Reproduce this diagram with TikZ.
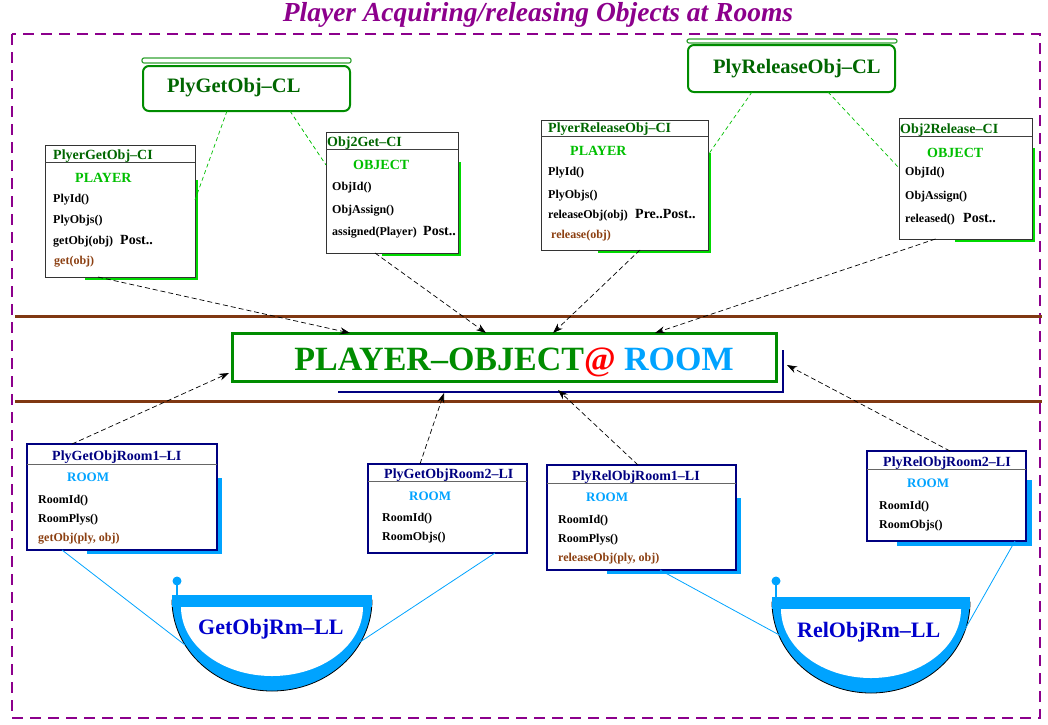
\documentclass[tikz,border=0pt]{standalone}
\usepackage{fontspec}
\setmainfont{Liberation Serif}
\usetikzlibrary{arrows.meta,calc}

\definecolor{plum}{rgb}{0.55,0,0.55}
\definecolor{rulebrown}{rgb}{0.5,0.22,0.07}
\definecolor{dkgreen}{rgb}{0,0.40,0}
\definecolor{midgreen}{rgb}{0,0.55,0}
\definecolor{ltgreen}{rgb}{0,0.75,0}
\definecolor{shgreen}{rgb}{0,0.85,0}
\definecolor{navy}{rgb}{0,0,0.5}
\definecolor{llblue}{rgb}{0,0,0.8}
\definecolor{sky}{rgb}{0,0.64,1}
\definecolor{methbrown}{rgb}{0.55,0.25,0.07}

\newcommand{\tsz}[1]{\fontsize{#1}{#1}\selectfont}

\begin{document}
\begin{tikzpicture}[x=1pt,y=-1pt,
  txt/.style={inner sep=0pt, anchor=base west, font=\bfseries\tsz{12}},
  ctxt/.style={inner sep=0pt, anchor=base, font=\bfseries},
  clbox/.style={draw=midgreen, line width=2pt, rounded corners=6pt, fill=white, inner sep=0pt, outer sep=0pt},
  clbar/.style={draw=midgreen!80, line width=1.2pt, rounded corners=2pt},
  cibox/.style={draw=black!80, line width=1pt, fill=white, inner sep=0pt, outer sep=0pt},
  libox/.style={draw=navy, line width=1.2pt, fill=white, inner sep=0pt, outer sep=0pt},
  citle/.style={txt, text=dkgreen, font=\bfseries\tsz{14}},
  litle/.style={txt, text=navy, font=\bfseries\tsz{14}},
  kind/.style={txt, font=\bfseries\tsz{14}},
  meth/.style={txt, text=methbrown},
  cond/.style={txt, font=\bfseries\tsz{14}},
  gdash/.style={draw=ltgreen, line width=0.7pt, dash pattern=on 4pt off 3pt},
  dep/.style={draw=black, line width=0.7pt, dash pattern=on 5pt off 3pt, -{Stealth[length=10pt,width=7pt]}},
  link/.style={draw=sky, line width=0.8pt},
]
\useasboundingbox (0,0) rectangle (1048,724);

% heading and frame
\node[ctxt, text=plum, font=\bfseries\itshape\tsz{27.5}] (title) at (538,21) {Player Acquiring/releasing Objects at Rooms};
\draw[plum, line width=2.5pt, dash pattern=on 11pt off 7pt] (12,34) rectangle (1040,718);

% horizontal rules
\draw[rulebrown, line width=3pt] (15,316) -- (1042,316);
\draw[rulebrown, line width=3pt] (15,401) -- (1042,401);

% central relation
\draw[navy, line width=2.5pt] (338,392) -- (783,392) -- (783,350);
\node[draw=midgreen, line width=3pt, fill=white, minimum width=544pt, minimum height=48pt, inner sep=0pt, outer sep=0pt] (ctr) at (504,357) {};
\node[ctxt, font=\bfseries\tsz{34}] (ctrtext) at (514,370) {{\color{midgreen}PLAYER\textendash OBJECT}{\color{red}@} {\color{sky}ROOM}};

% ---------- class boxes ----------
\draw[clbar] (142,58) rectangle (351,63);
\node[clbox, minimum width=207pt, minimum height=45pt] (gcl) at (246.5,88.5) {};
\node[txt, text=dkgreen, font=\bfseries\tsz{20.5}] (gclt) at (167,92) {PlyGetObj\textendash CL};

\draw[clbar] (687,39) rectangle (897,43);
\node[clbox, minimum width=207pt, minimum height=47pt] (rcl) at (791.5,68.5) {};
\node[txt, text=dkgreen, font=\bfseries\tsz{20.5}] (rclt) at (713,73) {PlyReleaseObj\textendash CL};

% ---------- class instances ----------
% PlyerGetObj-CI
\fill[shgreen] (85,180) rectangle (198,280);
\node[cibox, minimum width=150pt, minimum height=132pt] (gci) at (120,211) {};
\draw[black!75, line width=1pt] (45,162) -- (195,162);
\node[citle] (gci1) at (53,159) {PlyerGetObj\textendash CI};
\node[kind, text=ltgreen] (gci2) at (75,182) {PLAYER};
\node[txt] (gci3) at (53,202) {PlyId()};
\node[txt] (gci4) at (53,223) {PlyObjs()};
\node[txt] (gci5) at (53,244) {getObj(obj)};
\node[cond] (gci6) at (120,244) {Post..};
\node[meth] (gci7) at (54,264) {get(obj)};

% Obj2Get-CI
\fill[shgreen] (382,162) rectangle (461,256);
\node[cibox, minimum width=132pt, minimum height=121pt] (oci) at (392,192.5) {};
\draw[black!75, line width=1pt] (326,149) -- (458,149);
\node[citle] (oci1) at (327,146) {Obj2Get\textendash CI};
\node[kind, text=ltgreen] (oci2) at (353,169) {OBJECT};
\node[txt] (oci3) at (332,190) {ObjId()};
\node[txt] (oci4) at (332,213) {ObjAssign()};
\node[txt] (oci5) at (332,235) {assigned(Player)};
\node[cond] (oci6) at (423,235) {Post..};

% PlyerReleaseObj-CI
\fill[shgreen] (598,153) rectangle (711,253);
\node[cibox, minimum width=167pt, minimum height=130pt] (rci) at (624.5,185) {};
\draw[black!75, line width=1pt] (541,136) -- (708,136);
\node[citle] (rci1) at (548,132) {PlyerReleaseObj\textendash CI};
\node[kind, text=ltgreen] (rci2) at (570,155) {PLAYER};
\node[txt] (rci3) at (548,175) {PlyId()};
\node[txt] (rci4) at (548,198) {PlyObjs()};
\node[txt] (rci5) at (548,218) {releaseObj(obj)};
\node[cond] (rci6) at (635,218) {Pre..Post..};
\node[meth] (rci7) at (551,238) {release(obj)};

% Obj2Release-CI
\fill[shgreen] (955,148) rectangle (1035,242);
\node[cibox, minimum width=133pt, minimum height=121pt] (rlci) at (965.5,178.5) {};
\draw[black!75, line width=1pt] (899,136) -- (1032,136);
\node[citle] (rlci1) at (900,133) {Obj2Release\textendash CI};
\node[kind, text=ltgreen] (rlci2) at (927,157) {OBJECT};
\node[txt] (rlci3) at (905,175) {ObjId()};
\node[txt] (rlci4) at (905,199) {ObjAssign()};
\node[txt] (rlci5) at (905,222) {released()};
\node[cond] (rlci6) at (963,222) {Post..};

% ---------- link instances ----------
% PlyGetObjRoom1-LI
\fill[sky] (87,478) rectangle (222,554);
\node[libox, minimum width=190pt, minimum height=106pt] (li1) at (122,497) {};
\draw[black!60, line width=1pt] (27,464) -- (217,464);
\node[litle] (li1a) at (52,460) {PlyGetObjRoom1\textendash LI};
\node[kind, text=sky, font=\bfseries\tsz{13}] (li1b) at (67,481) {ROOM};
\node[txt] (li1c) at (38,503) {RoomId()};
\node[txt] (li1d) at (38,522) {RoomPlys()};
\node[meth] (li1e) at (38,541) {getObj(ply, obj)};

% PlyGetObjRoom2-LI
\node[libox, minimum width=159pt, minimum height=89pt] (li2) at (447.5,508.5) {};
\draw[black!60, line width=1pt] (368,481) -- (527,481);
\node[litle] (li2a) at (384,478) {PlyGetObjRoom2\textendash LI};
\node[kind, text=sky, font=\bfseries\tsz{13}] (li2b) at (409,500) {ROOM};
\node[txt] (li2c) at (382,521) {RoomId()};
\node[txt] (li2d) at (382,540) {RoomObjs()};

% PlyRelObjRoom1-LI
\fill[sky] (607,498) rectangle (741,574);
\node[libox, minimum width=189pt, minimum height=105pt] (li3) at (641.5,517.5) {};
\draw[black!60, line width=1pt] (547,483) -- (736,483);
\node[litle] (li3a) at (572,480) {PlyRelObjRoom1\textendash LI};
\node[kind, text=sky, font=\bfseries\tsz{13}] (li3b) at (586,501) {ROOM};
\node[txt] (li3c) at (558,523) {RoomId()};
\node[txt] (li3d) at (558,542) {RoomPlys()};
\node[meth] (li3e) at (558,561) {releaseObj(ply, obj)};

% PlyRelObjRoom2-LI
\fill[sky] (897,480) rectangle (1032,546);
\node[libox, minimum width=159pt, minimum height=90pt] (li4) at (946.5,496) {};
\draw[black!60, line width=1pt] (867,469) -- (1026,469);
\node[litle] (li4a) at (883,466) {PlyRelObjRoom2\textendash LI};
\node[kind, text=sky, font=\bfseries\tsz{13}] (li4b) at (907,487) {ROOM};
\node[txt] (li4c) at (879,509) {RoomId()};
\node[txt] (li4d) at (879,528) {RoomObjs()};

% ---------- link bowls ----------
% GetObjRm-LL
\filldraw[fill=sky, draw=black, line width=0.8pt] (172,600) arc (180:0:100 and 91) -- cycle;
\fill[sky] (172,595) rectangle (372,607);
\fill[white] (181,607) arc (180:0:91 and 69) -- cycle;
\draw[sky, line width=2pt] (177,581) -- (177,595);
\fill[sky] (177,581) circle (4.5);
\node[txt, text=llblue, font=\bfseries\tsz{22}] (gll) at (198,634) {GetObjRm\textendash LL};
\coordinate (gllL) at (185,645);
\coordinate (gllR) at (360,642);

% RelObjRm-LL
\filldraw[fill=sky, draw=black, line width=0.8pt] (772,602) arc (180:0:99 and 91) -- cycle;
\fill[sky] (772,597) rectangle (970,609);
\fill[white] (781,609) arc (180:0:90 and 69) -- cycle;
\draw[sky, line width=2pt] (776,581) -- (776,597);
\fill[sky] (776,581) circle (4.5);
\node[txt, text=llblue, font=\bfseries\tsz{22}] (rll) at (797,637) {RelObjRm\textendash LL};
\coordinate (rllL) at (783,637);
\coordinate (rllR) at (960,638);

% ---------- connectors ----------
% classes to their instances
\draw[gdash] ([xshift=-19.5pt]gcl.south) -- ([yshift=11pt]gci.east);
\draw[gdash] ([xshift=43.5pt]gcl.south) -- ([yshift=27.5pt]oci.west);
\draw[gdash] ([xshift=-39.5pt]rcl.south) -- ([yshift=30pt]rci.east);
\draw[gdash] ([xshift=36.5pt]rcl.south) -- ([yshift=10.5pt]rlci.west);

% instances to the relation
\draw[dep] ([xshift=-22pt]gci.south) -- ([xshift=118pt]ctr.north west);
\draw[dep] ([xshift=-17pt]oci.south) -- ([xshift=254pt]ctr.north west);
\draw[dep] ([xshift=15.5pt]rci.south) -- ([xshift=321pt]ctr.north west);
\draw[dep] ([xshift=-30pt]rlci.south) -- ([xshift=423pt]ctr.north west);
\draw[dep] ([xshift=-50pt]li1.north) -- ([xshift=-3pt,yshift=8pt]ctr.south west);
\draw[dep] ([xshift=-27.5pt]li2.north) -- ([xshift=212pt,yshift=-12pt]ctr.south west);
\draw[dep] ([xshift=-3.5pt]li3.north) -- ([xshift=326pt,yshift=-9pt]ctr.south west);
\draw[dep] ([xshift=3.5pt]li4.north) -- ([xshift=11pt,yshift=-8pt]ctr.east);

% link instances to their bowls
\draw[link] ([xshift=35pt]li1.south west) -- (gllL);
\draw[link] ([xshift=-32pt]li2.south east) -- (gllR);
\draw[link] ([xshift=18.5pt]li3.south) -- (rllL);
\draw[link] ([xshift=-11pt]li4.south east) -- (rllR);
\end{tikzpicture}
\end{document}
